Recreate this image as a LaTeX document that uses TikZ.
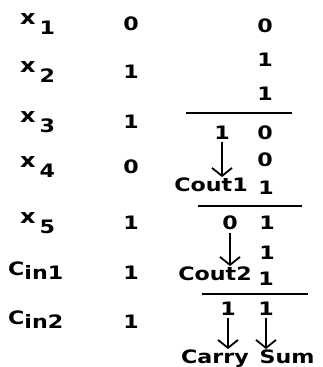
\documentclass[tikz,border=0pt]{standalone}
\usepackage{fontspec}
\setmainfont{DejaVu Sans}[FakeStretch=1.2]
\usetikzlibrary{arrows.meta,positioning}
\newcommand{\xsub}[1]{\raisebox{6pt}{\fontsize{20}{20}\selectfont x}\hspace{4pt}\raisebox{-4pt}{#1}}
\newcommand{\csub}[1]{\raisebox{4pt}{C}in#1}

\begin{document}
\begin{tikzpicture}[x=1pt, y=-1pt,
  bit/.style={font=\bfseries\fontsize{18.5}{18.5}\selectfont, inner sep=0pt, anchor=base},
  varlab/.style={font=\bfseries\fontsize{18.5}{18.5}\selectfont, inner sep=0pt, anchor=base west},
  sumline/.style={line width=2.4pt},
  arr/.style={-{Straight Barb[length=8pt, width=20pt]}, line width=1.8pt, shorten <=3pt}
]
\useasboundingbox (0,0) rectangle (323,367);
\node[varlab] (L1) at (20,30.5) {\xsub{1}};
\node[varlab] (L2) at (20,78.5) {\xsub{2}};
\node[varlab] (L3) at (20,128.5) {\xsub{3}};
\node[varlab] (L4) at (20,173.5) {\xsub{4}};
\node[varlab] (L5) at (20,229) {\xsub{5}};
\node[varlab] (L6) at (8,279) {\csub{1}};
\node[varlab] (L7) at (8,328.5) {\csub{2}};
\node[bit] (V1) at (131,30.5) {0};
\node[bit] (V2) at (131,78.5) {1};
\node[bit] (V3) at (131,128.5) {1};
\node[bit] (V4) at (131,173.5) {0};
\node[bit] (V5) at (131,229) {1};
\node[bit] (V6) at (131,279) {1};
\node[bit] (V7) at (131,328.5) {1};

\node[bit] (A1) at (265,32.5) {0};
\node[bit] (A2) at (265,66.5) {1};
\node[bit] (A3) at (265,100.5) {1};
\draw[sumline] (186,113) -- (292,113);
\node[bit] (C1) at (222,139) {1};
\node[bit] (S1) at (265,139) {0};
\node[bit] (A4) at (265,166.5) {0};
\node[bit] (CO1) at (211,191) {Cout1};
\node[bit] (A5) at (266,194) {1};
\draw[sumline] (198,206) -- (302,206);
\node[bit] (C2) at (230,229.5) {0};
\node[bit] (S2) at (267,229.5) {1};
\node[bit] (A6) at (267,259.5) {1};
\node[bit] (CO2) at (215,280) {Cout2};
\node[bit] (A7) at (266,285) {1};
\draw[sumline] (202,294) -- (308,294);
\node[bit] (C3) at (228,315) {1};
\node[bit] (S3) at (266,315) {1};
\node[bit] (CR) at (215,363) {Carry};
\node[bit] (SM) at (287,363) {Sum};

\draw[arr] (C1.south) -- (C1.south|-CO1.north);
\draw[arr] (C2.south) -- (C2.south|-CO2.north);
\draw[arr] (C3.south) -- (C3.south|-CR.north);
\draw[arr] (S3.south) -- (S3.south|-SM.north);
\end{tikzpicture}
\end{document}
